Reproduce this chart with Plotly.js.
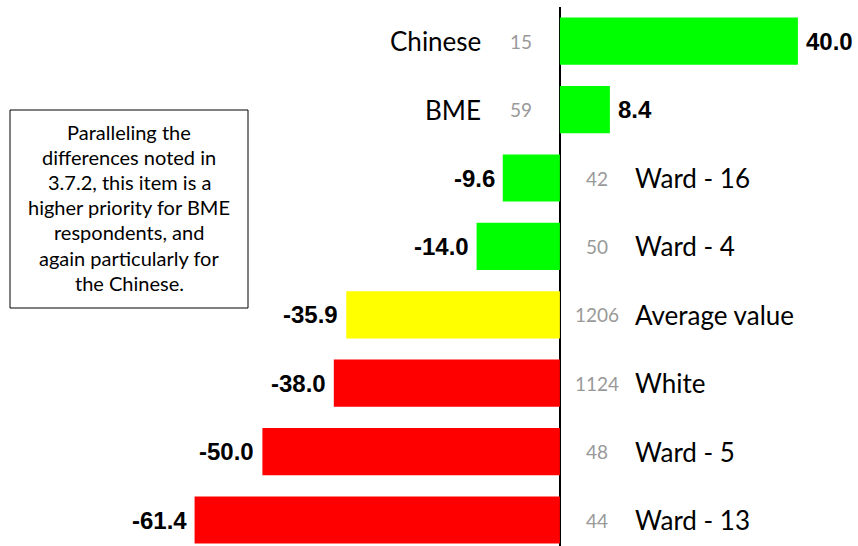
<!DOCTYPE html>
<html>
<head>
<meta charset="utf-8">
<script src="https://cdn.plot.ly/plotly-3.0.1.min.js"></script>
<style>html,body{margin:0;padding:0;background:#fff;}#chart{width:858px;height:546px;}</style>
</head>
<body>
<div id="chart"></div>
<script>
const categories = ["Chinese", "BME", "Ward - 16", "Ward - 4", "Average value", "White", "Ward - 5", "Ward - 13"];
const values = [40.0, 8.4, -9.6, -14.0, -35.9, -38.0, -50.0, -61.4];
const counts = [15, 59, 42, 50, 1206, 1124, 48, 44];
const barColors = ["#00ff00", "#00ff00", "#00ff00", "#00ff00", "#ffff00", "#ff0000", "#ff0000", "#ff0000"];
const noteLines = ["Paralleling the", "differences noted in", "3.7.2, this item is a", "higher priority for BME", "respondents, and", "again particularly for", "the Chinese."];

const labelFont = {family: "Lato, 'Open Sans', sans-serif", size: 26, color: "#000"};
const countFont = {family: "Lato, 'Open Sans', sans-serif", size: 19, color: "#999"};
const valueFont = {family: "'Liberation Sans', Arial, sans-serif", size: 24, color: "#000", weight: "bold"};
const noteFont = {family: "Lato, 'Open Sans', sans-serif", size: 20, color: "#000"};

const annotations = [];
categories.forEach((c, i) => {
  const v = values[i];
  const pos = v >= 0;
  annotations.push({x: v, y: c, xref: "x", yref: "y", text: "<b>" + v.toFixed(1) + "</b>",
    xanchor: pos ? "left" : "right", xshift: pos ? 6 : -6, showarrow: false, font: valueFont});
  annotations.push({x: 0, y: c, xref: "x", yref: "y", text: String(counts[i]),
    xanchor: "center", xshift: pos ? -39 : 37, showarrow: false, font: countFont});
  annotations.push({x: 0, y: c, xref: "x", yref: "y", text: c,
    xanchor: pos ? "right" : "left", xshift: pos ? -77 : 73, showarrow: false, font: labelFont});
});
const W = 858, H = 546, mt = 7, mb = 0;
noteLines.forEach((t, k) => {
  annotations.push({x: 129 / W, y: 1 - (132 + k * 25.1 - mt) / (H - mt - mb), xref: "paper", yref: "paper",
    text: t, showarrow: false, xanchor: "center", yanchor: "middle", font: noteFont});
});

const data = [{
  type: "bar",
  orientation: "h",
  y: categories,
  x: values,
  marker: {color: barColors, line: {width: 0}},
  width: 0.69,
  hoverinfo: "skip"
}];

const layout = {
  width: W, height: H,
  margin: {l: 0, r: 0, t: mt, b: mb, pad: 0},
  paper_bgcolor: "#fff", plot_bgcolor: "#fff",
  showlegend: false,
  xaxis: {range: [-94.1, 50.1], showgrid: false, showticklabels: false, ticks: "",
          zeroline: true, zerolinecolor: "#000", zerolinewidth: 2, showline: false, fixedrange: true},
  yaxis: {type: "category", categoryorder: "array", categoryarray: categories,
          range: [7.38, -0.5], showgrid: false, showticklabels: false, ticks: "",
          zeroline: false, showline: false, fixedrange: true},
  shapes: [{type: "rect", xref: "paper", yref: "paper",
            x0: 10 / W, x1: 248 / W, y0: 1 - (308 - mt) / (H - mt), y1: 1 - (110 - mt) / (H - mt),
            line: {color: "#000", width: 1}, fillcolor: "rgba(0,0,0,0)"}],
  annotations: annotations
};

Plotly.newPlot("chart", data, layout, {displayModeBar: false, staticPlot: true});
</script>
</body>
</html>
